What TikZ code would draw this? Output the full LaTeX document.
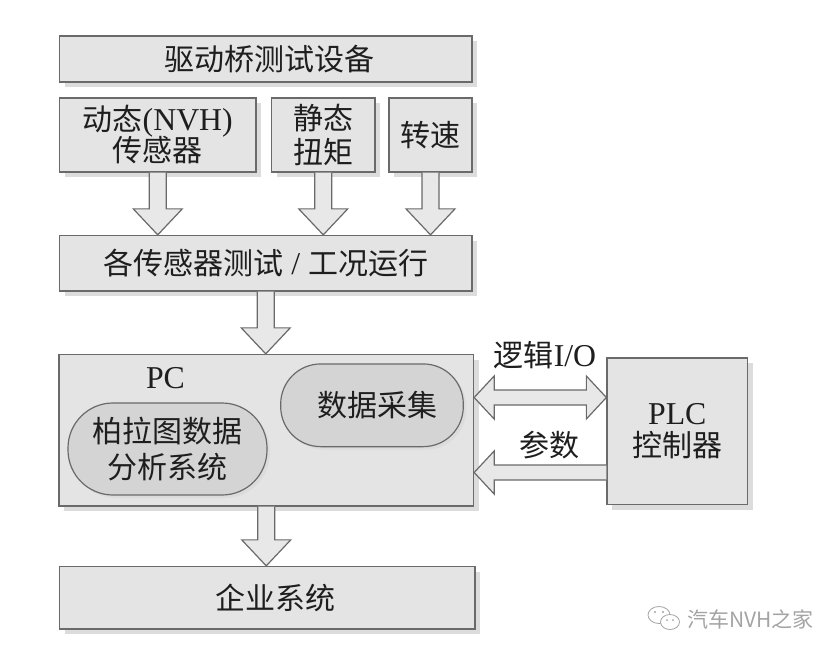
\documentclass[tikz,border=0pt]{standalone}
\usepackage{fontspec}
\setmainfont{Noto Sans CJK SC}
\newfontfamily\lat[Scale=1.06]{Liberation Serif}
\usetikzlibrary{calc,shadows}
\definecolor{boxfill}{HTML}{E4E4E4}
\definecolor{boxline}{HTML}{6A6A6A}
\definecolor{shade}{HTML}{DCDCDC}
\definecolor{pillfill}{HTML}{D4D4D4}
\definecolor{arrfill}{HTML}{E8E8E8}
\definecolor{txt}{HTML}{1E1E1E}
\definecolor{wm}{HTML}{A4A4A4}
\tikzset{
  box/.style={draw=boxline, line width=1.3pt, fill=boxfill, inner sep=0pt,
    align=center, text=txt, font=\fontsize{30}{34}\selectfont,
    drop shadow={shadow xshift=5pt, shadow yshift=-5pt, fill=shade, opacity=1}},
  pill/.style={draw=boxline, line width=1.2pt, fill=pillfill, inner sep=0pt,
    align=center, text=txt, font=\fontsize{30}{36}\selectfont,
    drop shadow={shadow xshift=3pt, shadow yshift=-3pt, fill=shade, opacity=1}},
  lbl/.style={text=txt, inner sep=0pt, align=center, font=\fontsize{30}{34}\selectfont},
  blockarrow/.style={draw=boxline, line width=1.2pt, fill=arrfill, line join=miter},
}
\newcommand\downblock[2]{%
  \path[blockarrow] let \p1=(#1), \p2=(#2) in
  (\x1-8.5pt,\y1) -- (\x1-8.5pt,\y2+26pt) -- (\x1-24.5pt,\y2+26pt) -- (\x1,\y2)
  -- (\x1+24.5pt,\y2+26pt) -- (\x1+8.5pt,\y2+26pt) -- (\x1+8.5pt,\y1);}
\newcommand\dblblock[2]{%
  \path[blockarrow] let \p1=(#1), \p2=(#2) in
  (\x1,\y1) -- (\x1+20pt,\y1+21.5pt) -- (\x1+20pt,\y1+7.5pt) -- (\x2-20pt,\y1+7.5pt)
  -- (\x2-20pt,\y1+21.5pt) -- (\x2,\y1) -- (\x2-20pt,\y1-21.5pt) -- (\x2-20pt,\y1-7.5pt)
  -- (\x1+20pt,\y1-7.5pt) -- (\x1+20pt,\y1-21.5pt) -- cycle;}
\newcommand\leftblock[2]{%
  \path[blockarrow] let \p1=(#1), \p2=(#2) in
  (\x2,\y1+7.5pt) -- (\x1+20pt,\y1+7.5pt) -- (\x1+20pt,\y1+21.5pt) -- (\x1,\y1)
  -- (\x1+20pt,\y1-21.5pt) -- (\x1+20pt,\y1-7.5pt) -- (\x2,\y1-7.5pt);}
\begin{document}
\begin{tikzpicture}[x=1pt,y=-1pt]
\fill[white] (0,0) rectangle (833,656);
\useasboundingbox (0,0) rectangle (833,656);

% boxes
\node[box, minimum width=412.5pt, minimum height=46pt] (top) at (265.75,59) {\hspace*{8pt}驱动桥测试设备};
\node[box, minimum width=196.5pt, minimum height=74pt] (s1) at (157.75,135) {动态{\lat (NVH)}\\[-3pt]传感器};
\node[box, minimum width=103.5pt, minimum height=74pt] (s2) at (323.25,135) {静态\\扭矩};
\node[box, minimum width=83pt, minimum height=74pt] (s3) at (430.5,135) {转速};
\node[box, minimum width=412.5pt, minimum height=55.5pt] (mid) at (265.75,263.25) {各传感器测试{\lat\ /\ }工况运行};
\node[box, minimum width=414.5pt, minimum height=151.5pt] (pc) at (266.25,430.25) {};
\node[box, minimum width=140.5pt, minimum height=146.5pt] (plc) at (677.25,431.25) {{\lat PLC}\\[-2pt]控制器};
\node[box, minimum width=415.5pt, minimum height=62.5pt] (ent) at (267.25,597.75) {\hspace*{16pt}企业系统};

% inside PC
\node[lbl] (pclbl) at (165.5,378) {\lat PC};
\node[pill, rounded corners=45pt, minimum width=199pt, minimum height=92pt] (pareto) at (167.5,449) {柏拉图数据\\分析系统};
\node[pill, rounded corners=40pt, minimum width=182.6pt, minimum height=82.7pt] (daq) at (372,405.3) {\hspace*{10pt}数据采集};

% vertical block arrows
\downblock{s1.south}{s1.south |- mid.north}
\downblock{s2.south}{s2.south |- mid.north}
\downblock{s3.south}{s3.south |- mid.north}
\downblock{mid.south}{mid.south |- pc.north}
\downblock{pc.south}{pc.south |- ent.north}

% horizontal block arrows
\coordinate (io) at (540,397.5);
\coordinate (par) at (540,472.5);
\dblblock{io -| pc.east}{io -| plc.west}
\leftblock{par -| pc.east}{par -| plc.west}
\node[lbl] (iolbl) at (545,355) {逻辑{\lat I/O}};
\node[lbl] (parlbl) at (549,445) {参数};

% watermark
\node[inner sep=0pt, text=wm, font=\fontsize{21}{21}\selectfont, anchor=west] (wmtext) at (687,619) {汽车NVH之家};
\draw[wm, line width=0.8pt] (659,615) ellipse [x radius=11pt, y radius=8.5pt];
\draw[wm, line width=0.8pt, fill=white] (670,622) ellipse [x radius=9.5pt, y radius=7.5pt];
\fill[wm] (655,612) circle (1.2pt) (663,612) circle (1.2pt) (667,620) circle (1pt) (673,620) circle (1pt);
\end{tikzpicture}
\end{document}
